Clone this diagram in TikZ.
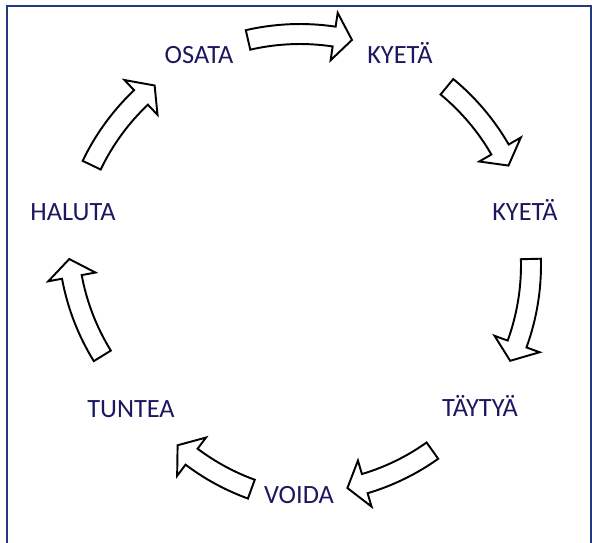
\documentclass[tikz,border=0pt]{standalone}
\usepackage{fontspec}
\setmainfont{Carlito}
\usepackage{tikz}
\usetikzlibrary{positioning}
\definecolor{mnavy}{RGB}{28, 24, 96}
\definecolor{mframe}{RGB}{36, 58, 128}
\tikzset{lbl/.style = {text=mnavy, font=\fontsize{15}{18}\selectfont, anchor=base, inner sep=0}}
\tikzset{blockarrow/.style = {draw=black, fill=white, line width=1.1pt, line join=miter}}
\newcommand{\cycarrow}[4]{%
  \begin{scope}[shift={(#1)}]
    \pgfmathsetmacro{\hb}{#3 - 4.5}
    \pgfmathsetmacro{\ro}{#4 + 10}
    \pgfmathsetmacro{\ri}{#4 - 10}
    \pgfmathsetmacro{\rh}{#4 + 24}
    \pgfmathsetmacro{\rl}{#4 - 24}
    \draw [blockarrow] (#2:\ro) arc [start angle=#2, end angle=\hb, radius=\ro]
      -- (\hb:\rh) -- (#3:#4) -- (\hb:\rl) -- (\hb:\ri)
      arc [start angle=\hb, end angle=#2, radius=\ri] -- cycle;
  \end{scope}}

\begin{document}
\begin{tikzpicture}[x=0.02cm, y=-0.02cm]
    \clip (0, 0) rectangle (592, 542);
    \draw [mframe, line width=1.2pt] (6.7, 6) rectangle (591.5, 600);

    \node [lbl] (osata) at (199, 63) {OSATA};
    \node [lbl] (kyeta) at (400, 63) {KYETÄ};
    \node [lbl] (kyetaa) at (525, 220) {KYETÄ};
    \node [lbl] (taytya) at (480, 416) {TÄYTYÄ};
    \node [lbl] (voida) at (299, 503) {VOIDA};
    \node [lbl] (tuntea) at (131, 417) {TUNTEA};
    \node [lbl] (haluta) at (73, 220) {HALUTA};

    \cycarrow{300, 265}{-103}{-77}{231}
    \cycarrow{300, 265}{-50.5}{-25.5}{231}
    \cycarrow{300, 265}{-1.5}{24.5}{231}
    \cycarrow{300, 265}{54.5}{78}{228}
    \cycarrow{330, 273}{110}{131.5}{230}
    \cycarrow{298, 235}{148.3}{174}{230}
    \cycarrow{300, 265}{205.6}{231}{231}
  \end{tikzpicture}
\end{document}
